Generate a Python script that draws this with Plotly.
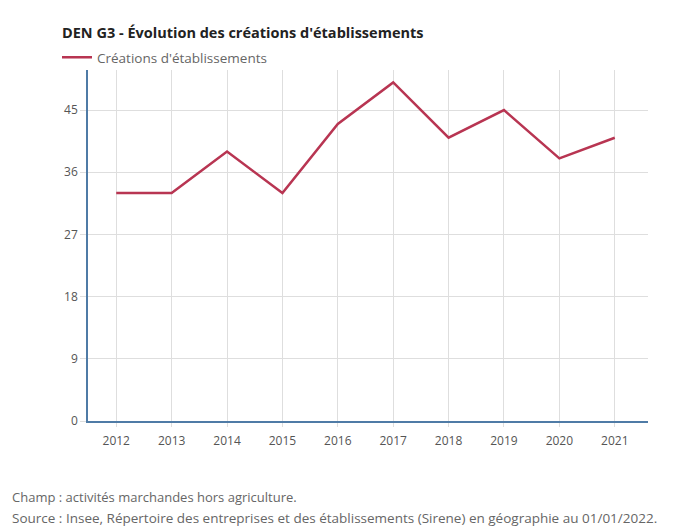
import plotly.graph_objects as go

years = [2012, 2013, 2014, 2015, 2016, 2017, 2018, 2019, 2020, 2021]
creations = [33, 33, 39, 33, 43, 49, 41, 45, 38, 41]
y_ticks = [0, 9, 18, 27, 36, 45]

title_text = "DEN G3 - Évolution des créations d'établissements"
series_name = "Créations d'établissements"
note1 = "Champ : activités marchandes hors agriculture."
note2 = "Source : Insee, Répertoire des entreprises et des établissements (Sirene) en géographie au 01/01/2022."

# page has an 8px body margin: figure drawn at (8, 8)
OFF = 8
W, H = 674 - OFF, 526 - OFF
L, R, T, B = 88 - OFF, 26, 70 - OFF, 105
pw, ph = W - L - R, H - T - B

fig = go.Figure()
fig.add_trace(go.Scatter(
    x=years, y=creations, mode="lines", name=series_name,
    line=dict(color="#b83552", width=2.5),
))

font = "Open Sans, Noto Sans, sans-serif"
fig.update_layout(
    width=W, height=H,
    margin=dict(l=L, r=R, t=T, b=B, autoexpand=False),
    paper_bgcolor="white", plot_bgcolor="white",
    font=dict(family=font, size=12, color="#555"),
    title=dict(text="<b>" + title_text + "</b>", xref="container", yref="container",
               x=(62 - OFF) / W, y=1 - (33 - OFF) / H, xanchor="left", yanchor="middle",
               font=dict(size=14.5, color="#222", family=font)),
    showlegend=True,
    legend=dict(xref="container", yref="container", x=(57 - OFF) / W, y=1 - (42 - OFF) / H,
                xanchor="left", yanchor="top", orientation="h",
                font=dict(size=13.5, color="#666"), bgcolor="rgba(0,0,0,0)",
                itemwidth=30),
    xaxis=dict(range=[2011.49, 2021.6], tickmode="array", tickvals=years,
               ticktext=[str(y) for y in years], showgrid=True, gridcolor="#dedede",
               gridwidth=1, showline=True, linecolor="#4f7ba6", linewidth=1.5,
               zeroline=False, ticks="outside", ticklen=4, tickcolor="#dedede",
               ticklabelstandoff=4,
               tickfont=dict(size=12, color="#555")),
    yaxis=dict(range=[0, 50.8], tickmode="array", tickvals=y_ticks,
               showgrid=True, gridcolor="#dedede", gridwidth=1,
               showline=True, linecolor="#4f7ba6", linewidth=1.5, zeroline=False,
               ticks="outside", ticklen=6, tickcolor="#dedede",
               tickfont=dict(size=12, color="#555")),
)

fx = (10 - OFF - L) / pw
fig.add_annotation(text=note1, xref="paper", yref="paper",
                   x=fx, y=(T + ph - (497 - OFF)) / ph, xanchor="left", yanchor="middle",
                   showarrow=False, font=dict(size=13, color="#666", family=font))
fig.add_annotation(text=note2, xref="paper", yref="paper",
                   x=fx, y=(T + ph - (518 - OFF)) / ph, xanchor="left", yanchor="middle",
                   showarrow=False, font=dict(size=13.5, color="#666", family=font))

fig.write_html("out.html")
